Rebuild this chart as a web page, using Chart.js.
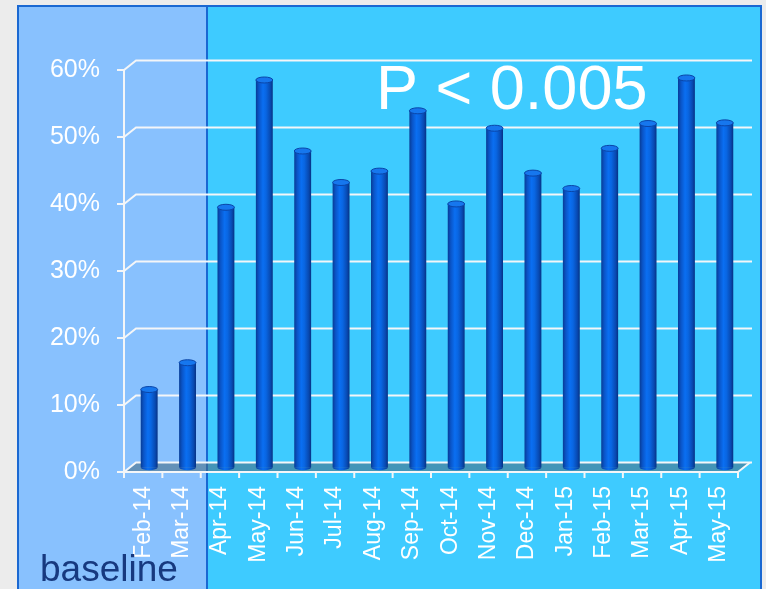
<!DOCTYPE html>
<html>
<head>
<meta charset="utf-8">
<script src="https://cdn.jsdelivr.net/npm/chart.js@4/dist/chart.umd.min.js"></script>
<style>
html,body{margin:0;padding:0;background:#ececec;}
#wrap{width:766px;height:589px;position:relative;}
</style>
</head>
<body>
<div id="wrap"><canvas id="c" width="766" height="589"></canvas></div>
<script>
const categories = ["Feb-14","Mar-14","Apr-14","May-14","Jun-14","Jul-14","Aug-14","Sep-14","Oct-14","Nov-14","Dec-14","Jan-15","Feb-15","Mar-15","Apr-15","May-15"];
const values = [11.6,15.6,38.8,57.8,47.2,42.5,44.2,53.2,39.3,50.6,43.9,41.6,47.6,51.3,58.1,51.4];
const yTicks = [0,10,20,30,40,50,60];
const annotationText = "P < 0.005";
const baselineText = "baseline";

const DX = 12, DY = -9.5;
const FONT = '"Liberation Sans", Arial, sans-serif';

function barGradient(ctx) {
  const chart = ctx.chart;
  const xs = chart.scales && chart.scales.x;
  if (!xs || ctx.dataIndex === undefined) return '#0a5fd8';
  const cx = xs.getPixelForValue(ctx.dataIndex);
  const w = xs.width / categories.length * 0.44;
  if (!isFinite(cx) || !isFinite(w) || w <= 0) return '#0a5fd8';
  const g = chart.ctx.createLinearGradient(cx - w/2, 0, cx + w/2, 0);
  g.addColorStop(0, '#073c96');
  g.addColorStop(0.18, '#0a55c8');
  g.addColorStop(0.42, '#0a6ff2');
  g.addColorStop(0.6, '#0966e2');
  g.addColorStop(0.85, '#084ab2');
  g.addColorStop(1, '#063285');
  return g;
}

const deco = {
  id: 'deco',
  beforeDraw(chart) {
    const c = chart.ctx;
    c.save();
    c.fillStyle = '#ececec';
    c.fillRect(0, 0, 766, 589);
    c.fillStyle = '#3ecbff';
    c.fillRect(18, 6, 744, 590);
    c.fillStyle = '#88c1fe';
    c.fillRect(18, 6, 189, 590);
    c.strokeStyle = '#1a68d2';
    c.lineWidth = 2;
    c.strokeRect(18, 6, 743, 600);
    c.beginPath(); c.moveTo(207, 6); c.lineTo(207, 589); c.stroke();
    c.restore();
  },
  beforeDatasetsDraw(chart) {
    const c = chart.ctx;
    const ys = chart.scales.y;
    const L = chart.chartArea.left, R = chart.chartArea.right;
    const y0 = ys.getPixelForValue(0);
    c.save();
    c.fillStyle = 'rgba(70,105,125,0.55)';
    c.beginPath();
    c.moveTo(L, y0); c.lineTo(R, y0); c.lineTo(R + DX, y0 + DY); c.lineTo(L + DX, y0 + DY); c.closePath();
    c.fill();
    c.strokeStyle = '#f4f6f8';
    c.lineWidth = 2;
    yTicks.forEach(v => {
      const y = ys.getPixelForValue(v);
      c.beginPath();
      c.moveTo(L - 7, y); c.lineTo(L, y); c.lineTo(L + DX, y + DY); c.lineTo(R + DX + 2, y + DY);
      c.stroke();
    });
    c.beginPath();
    c.moveTo(L, ys.getPixelForValue(yTicks[yTicks.length-1])); c.lineTo(L, y0);
    c.stroke();
    c.beginPath();
    c.moveTo(L, y0); c.lineTo(R, y0); c.lineTo(R + DX, y0 + DY);
    c.stroke();
    const step = (R - L) / categories.length;
    for (let i = 0; i <= categories.length; i++) {
      const x = L + step * i;
      c.beginPath(); c.moveTo(x, y0); c.lineTo(x, y0 + 6); c.stroke();
    }
    c.restore();
    c.save();
    c.translate(DX / 2, DY / 2);
  },
  afterDatasetsDraw(chart) {
    const c = chart.ctx;
    const meta = chart.getDatasetMeta(0);
    meta.data.forEach(bar => {
      const p = bar.getProps(['x','y','base','width'], true);
      const rx = p.width / 2, ry = 3;
      c.fillStyle = bar.options.backgroundColor;
      c.beginPath(); c.ellipse(p.x, p.base, rx, ry, 0, 0, Math.PI); c.fill();
      c.beginPath(); c.ellipse(p.x, p.y, rx, ry, 0, 0, Math.PI * 2);
      c.fillStyle = '#1677ee';
      c.fill();
      c.strokeStyle = '#0a45a8';
      c.lineWidth = 1;
      c.stroke();
    });
    c.restore();
  },
  afterDraw(chart) {
    const c = chart.ctx;
    c.save();
    c.fillStyle = '#ffffff';
    c.font = '63px ' + FONT;
    c.textBaseline = 'alphabetic';
    c.fillText(annotationText, 376, 109);
    c.fillStyle = '#17397f';
    c.font = '37px ' + FONT;
    c.fillText(baselineText, 40, 581);
    c.restore();
  }
};

new Chart(document.getElementById('c'), {
  type: 'bar',
  data: {
    labels: categories,
    datasets: [{
      data: values,
      backgroundColor: barGradient,
      borderWidth: 0,
      barPercentage: 0.44,
      categoryPercentage: 1,
      clip: false
    }]
  },
  options: {
    responsive: false,
    animation: false,
    devicePixelRatio: 1,
    layout: { padding: { top: 70, right: 28, left: 0, bottom: 0 } },
    plugins: { legend: { display: false }, tooltip: { enabled: false } },
    scales: {
      x: {
        grid: { display: false, drawTicks: false },
        border: { display: false },
        ticks: { color: '#ffffff', font: { family: FONT, size: 23 }, minRotation: 90, maxRotation: 90, autoSkip: false, padding: 14 },
        afterFit(s) { s.height = 117; }
      },
      y: {
        min: 0, max: 60,
        grid: { display: false, drawTicks: false },
        border: { display: false },
        ticks: { stepSize: 10, color: '#ffffff', font: { family: FONT, size: 25 }, padding: 24, callback: v => v + '%' },
        afterFit(s) { s.width = 124; }
      }
    }
  },
  plugins: [deco]
});
</script>
</body>
</html>
